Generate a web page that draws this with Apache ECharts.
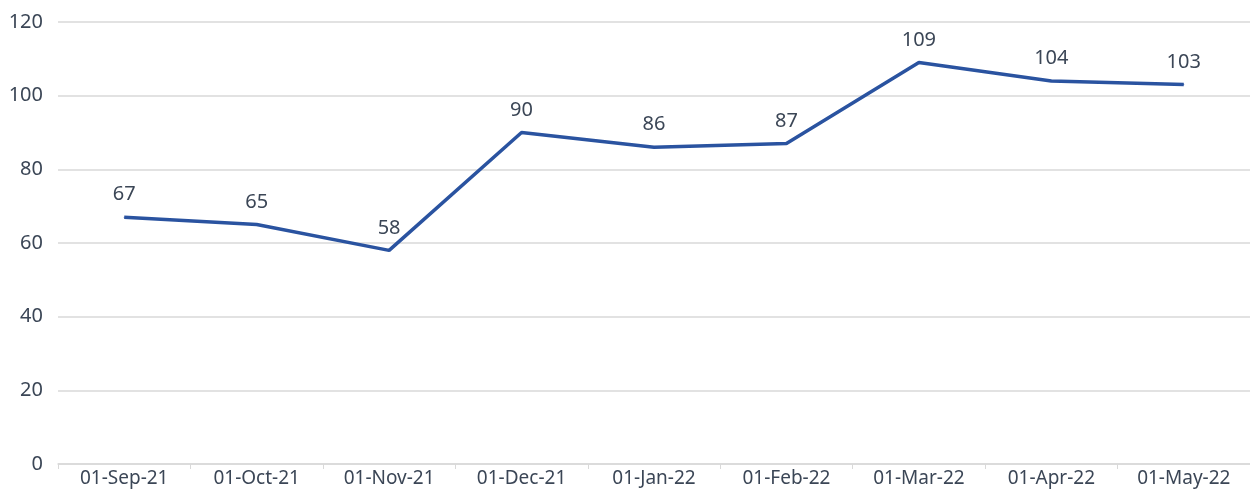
<!DOCTYPE html>
<html>
<head>
<meta charset="utf-8">
<script src="https://cdn.jsdelivr.net/npm/echarts@6/dist/echarts.min.js"></script>
<style>
  html, body { margin: 0; padding: 0; background: #fff; }
  #chart { width: 1250px; height: 496px; }
</style>
</head>
<body>
<div id="chart"></div>
<script>
const categories = ['01-Sep-21', '01-Oct-21', '01-Nov-21', '01-Dec-21', '01-Jan-22', '01-Feb-22', '01-Mar-22', '01-Apr-22', '01-May-22']
const values = [67, 65, 58, 90, 86, 87, 109, 104, 103]
const yTicks = { min: 0, max: 120, interval: 20 }

const textColor = '#3b4656'
const font = '"Noto Sans", "Open Sans", sans-serif'

let myChart = echarts.init(document.getElementById('chart'))

myChart.setOption({
  animation: false,
  grid: { left: 58, right: 0, top: 22, bottom: 32, containLabel: false },
  xAxis: {
    type: 'category',
    data: categories,
    boundaryGap: true,
    axisLine: { lineStyle: { color: '#d9d9d9', width: 1.5 } },
    axisTick: { show: true, length: 5, alignWithLabel: false, lineStyle: { color: '#d9d9d9' } },
    axisLabel: { color: textColor, fontSize: 19, fontFamily: font, margin: 5 }
  },
  yAxis: {
    type: 'value',
    min: yTicks.min,
    max: yTicks.max,
    interval: yTicks.interval,
    axisLine: { show: false },
    axisTick: { show: false },
    axisLabel: { color: textColor, fontSize: 20, fontFamily: font, margin: 15 },
    splitLine: { lineStyle: { color: '#d9d9d9', width: 1.5 } }
  },
  series: [
    {
      type: 'line',
      data: values,
      symbol: 'circle',
      symbolSize: 1,
      showSymbol: true,
      lineStyle: { color: '#2a53a0', width: 3.5 },
      itemStyle: { color: '#2a53a0' },
      label: {
        show: true,
        position: 'top',
        distance: 12,
        color: textColor,
        fontSize: 20,
        fontFamily: font
      }
    }
  ]
})
</script>
</body>
</html>
